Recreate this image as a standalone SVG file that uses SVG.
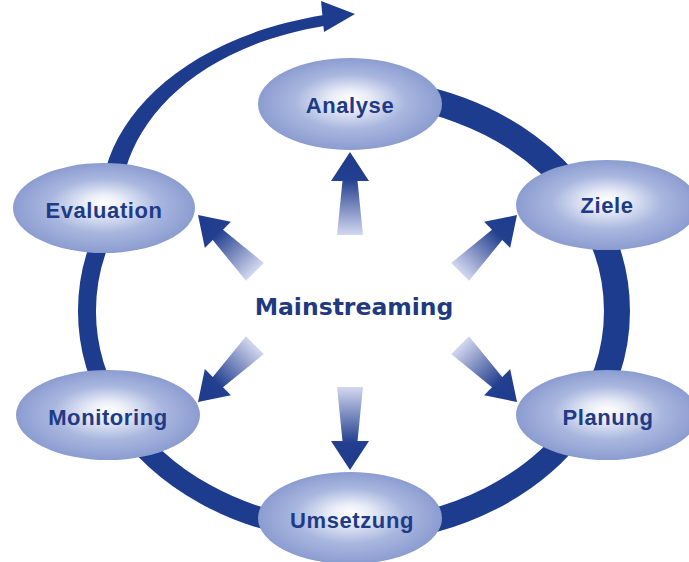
<svg xmlns="http://www.w3.org/2000/svg" xmlns:xlink="http://www.w3.org/1999/xlink" width="689" height="562" viewBox="0 0 689 562">
  <defs>
    <radialGradient id="nodeFill" cx="50%" cy="50%" r="50%" fx="50%" fy="44%">
      <stop offset="0" stop-color="#FFFFFF"/>
      <stop offset="0.22" stop-color="#E8ECF7"/>
      <stop offset="0.6" stop-color="#A9B7DF"/>
      <stop offset="1" stop-color="#8B9CD0"/>
    </radialGradient>
    <linearGradient id="spokeFill" x1="0" y1="0" x2="0" y2="1">
      <stop offset="0" stop-color="#1E3B8C"/>
      <stop offset="0.33" stop-color="#233F8F"/>
      <stop offset="1" stop-color="#D3D8EF"/>
    </linearGradient>
    <!-- spoke arrow pointing up, tip at the origin -->
    <polygon id="spoke" points="0,0 19,29 7.5,29 13,83 -13,83 -7.5,29 -19,29" fill="url(#spokeFill)"/>
  </defs>
  <style>
    .ring { fill: none; stroke: #1D3C8E; }
    .node ellipse { fill: url(#nodeFill); }
    .node text { font-family: "Liberation Sans", Arial, sans-serif; font-weight: bold; font-size: 22px; letter-spacing: 0.6px; fill: #213A86; text-anchor: middle; }
    .center text { font-family: "DejaVu Sans", Verdana, sans-serif; font-weight: bold; font-size: 23.5px; fill: #1F3A80; text-anchor: middle; }
  </style>

  <rect width="689" height="562" fill="#FFFFFF"/>

  <!-- cycle ring and exit arrow -->
  <g id="connectors">
    <path class="ring" stroke-width="26" d="M306.0,94.3 A265,220 0 0 1 576.7,194.4"/>
    <path class="ring" stroke-width="26" d="M576.7,194.4 A265,220 0 0 1 576.7,427.6"/>
    <path class="ring" stroke-width="24" d="M576.7,427.6 A265,220 0 0 1 375.1,530.2"/>
    <path class="ring" stroke-width="21" d="M328.9,530.2 A265,220 0 0 1 118.0,414.3"/>
    <path class="ring" stroke-width="18" d="M118.0,414.3 A265,220 0 0 1 118.0,207.7"/>
    <path fill="#1D3C8E" d="M104,185 L106,168 C125,100 200,35 324,15 L324,26 C210,45 145,105 126,168 L124,185 Z"/>
    <polygon fill="#1D3C8E" points="321,1 355,14 324,32"/>

    <!-- spokes from the centre -->
    <use xlink:href="#spoke" href="#spoke" transform="translate(350,152)"/>
    <use xlink:href="#spoke" href="#spoke" transform="translate(350,470) rotate(180)"/>
    <use xlink:href="#spoke" href="#spoke" transform="translate(198,215) rotate(-45) scale(0.97)"/>
    <use xlink:href="#spoke" href="#spoke" transform="translate(517,215) rotate(45) scale(0.97)"/>
    <use xlink:href="#spoke" href="#spoke" transform="translate(198,402) rotate(-135) scale(0.97)"/>
    <use xlink:href="#spoke" href="#spoke" transform="translate(517,402) rotate(135) scale(0.97)"/>
  </g>

  <g id="analyse" class="node">
    <ellipse cx="350" cy="104" rx="92" ry="46"/>
    <text x="350" y="113">Analyse</text>
  </g>
  <g id="ziele" class="node">
    <ellipse cx="607" cy="205" rx="91" ry="45"/>
    <text x="607" y="213">Ziele</text>
  </g>
  <g id="planung" class="node">
    <ellipse cx="607" cy="415" rx="91" ry="45"/>
    <text x="608" y="425">Planung</text>
  </g>
  <g id="umsetzung" class="node">
    <ellipse cx="350" cy="518" rx="92" ry="46"/>
    <text x="352" y="528">Umsetzung</text>
  </g>
  <g id="monitoring" class="node">
    <ellipse cx="108" cy="415" rx="92" ry="45"/>
    <text x="108" y="425">Monitoring</text>
  </g>
  <g id="evaluation" class="node">
    <ellipse cx="104" cy="208" rx="91" ry="45"/>
    <text x="104" y="218">Evaluation</text>
  </g>

  <g id="mainstreaming" class="center">
    <text x="354" y="315">Mainstreaming</text>
  </g>
</svg>
